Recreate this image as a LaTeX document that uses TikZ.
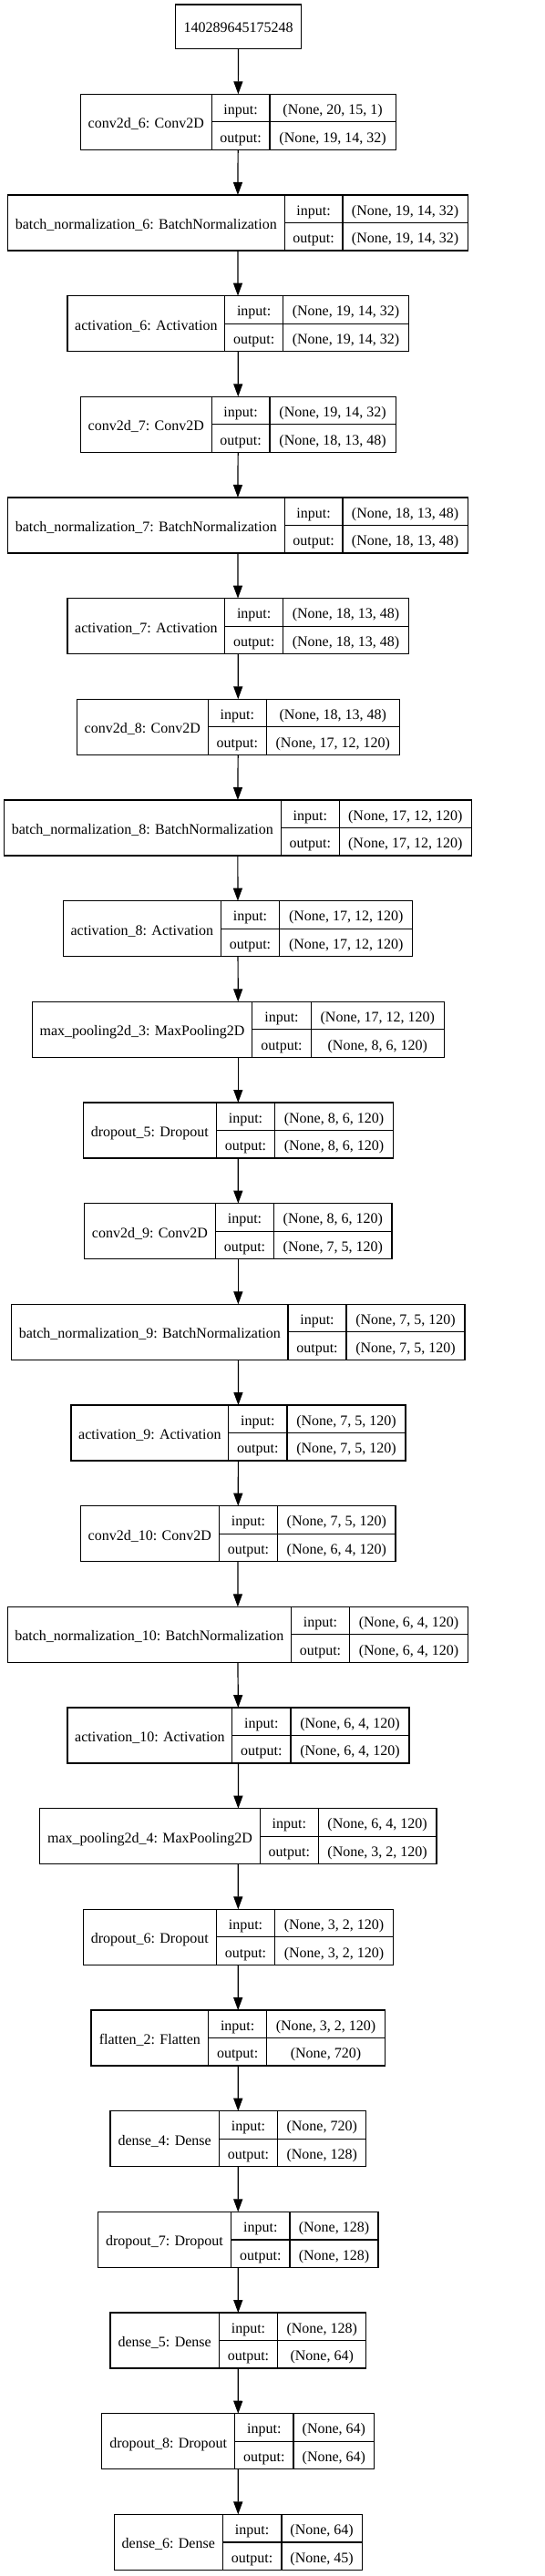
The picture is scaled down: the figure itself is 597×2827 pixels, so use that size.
\documentclass[tikz,border=0pt]{standalone}
\usepackage{fontspec}
\setmainfont{Liberation Serif}
\usetikzlibrary{arrows.meta}

% one layer: name, row, left, split1, split2, right, label, input, output
\newcommand{\layer}[9]{%
  \pgfmathsetmacro{\yc}{133.8+110.67*#2}
  \node[cell, draw=none, minimum width={(#6-#3)*1pt}, minimum height=61pt] (#1) at ({(#3+#6)/2},\yc) {};
  \node[cell, minimum width={(#4-#3)*1pt}, minimum height=61pt] (#1n) at ({(#3+#4)/2},\yc) {#7};
  \node[cell, minimum width={(#5-#4)*1pt}, minimum height=30.5pt] (#1il) at ({(#4+#5)/2},\yc-15.25) {input:};
  \node[cell, minimum width={(#5-#4)*1pt}, minimum height=30.5pt] (#1ol) at ({(#4+#5)/2},\yc+15.25) {output:};
  \node[cell, minimum width={(#6-#5)*1pt}, minimum height=30.5pt] (#1i) at ({(#5+#6)/2},\yc-15.25) {#8};
  \node[cell, minimum width={(#6-#5)*1pt}, minimum height=30.5pt] (#1o) at ({(#5+#6)/2},\yc+15.25) {#9};
}

\begin{document}
\begin{tikzpicture}[x=1pt, y=-1pt, line width=1.2pt,
    cell/.style={draw, inner sep=0pt, outer sep=0pt, text height=16pt, text depth=2pt,
      font=\fontsize{16}{19}\selectfont},
    arr/.style={-{Triangle[length=14pt, width=10pt]}}]
  \useasboundingbox (0,0) rectangle (597,2827);

  \node[cell, minimum width=138.4pt, minimum height=48.3pt, text height=14pt] (top) at (261.5,29.2) {140289645175248};

  \layer{conv6}{0}{88.3}{232.3}{296}{434.3}{conv2d\_6: Conv2D}{(None, 20, 15, 1)}{(None, 19, 14, 32)}
  \layer{bn6}{1}{8.3}{312.3}{376}{513.3}{batch\_normalization\_6: BatchNormalization}{(None, 19, 14, 32)}{(None, 19, 14, 32)}
  \layer{act6}{2}{74}{246.7}{310.7}{448.3}{activation\_6: Activation}{(None, 19, 14, 32)}{(None, 19, 14, 32)}
  \layer{conv7}{3}{88.3}{232.3}{296}{434.3}{conv2d\_7: Conv2D}{(None, 19, 14, 32)}{(None, 18, 13, 48)}
  \layer{bn7}{4}{8.3}{312.3}{376}{513.3}{batch\_normalization\_7: BatchNormalization}{(None, 18, 13, 48)}{(None, 18, 13, 48)}
  \layer{act7}{5}{74}{246.7}{310.7}{448.3}{activation\_7: Activation}{(None, 18, 13, 48)}{(None, 18, 13, 48)}
  \layer{conv8}{6}{84.3}{228.3}{292.3}{438.3}{conv2d\_8: Conv2D}{(None, 18, 13, 48)}{(None, 17, 12, 120)}
  \layer{bn8}{7}{4.3}{308.3}{372.3}{517.3}{batch\_normalization\_8: BatchNormalization}{(None, 17, 12, 120)}{(None, 17, 12, 120)}
  \layer{act8}{8}{69.3}{242.3}{306.7}{452.7}{activation\_8: Activation}{(None, 17, 12, 120)}{(None, 17, 12, 120)}
  \layer{pool3}{9}{35.3}{276.7}{341.3}{487.3}{max\_pooling2d\_3: MaxPooling2D}{(None, 17, 12, 120)}{(None, 8, 6, 120)}
  \layer{drop5}{10}{91.3}{237.3}{301.7}{431.3}{dropout\_5: Dropout}{(None, 8, 6, 120)}{(None, 8, 6, 120)}
  \layer{conv9}{11}{92.7}{236.3}{300.7}{430}{conv2d\_9: Conv2D}{(None, 8, 6, 120)}{(None, 7, 5, 120)}
  \layer{bn9}{12}{12.7}{316}{380}{510}{batch\_normalization\_9: BatchNormalization}{(None, 7, 5, 120)}{(None, 7, 5, 120)}
  \layer{act9}{13}{78}{250.7}{315}{445}{activation\_9: Activation}{(None, 7, 5, 120)}{(None, 7, 5, 120)}
  \layer{conv10}{14}{88.3}{240.3}{304.7}{434}{conv2d\_10: Conv2D}{(None, 7, 5, 120)}{(None, 6, 4, 120)}
  \layer{bn10}{15}{8.3}{319.3}{383.7}{513.3}{batch\_normalization\_10: BatchNormalization}{(None, 6, 4, 120)}{(None, 6, 4, 120)}
  \layer{act10}{16}{74}{254.7}{319}{449}{activation\_10: Activation}{(None, 6, 4, 120)}{(None, 6, 4, 120)}
  \layer{pool4}{17}{43.7}{285.3}{349.3}{479}{max\_pooling2d\_4: MaxPooling2D}{(None, 6, 4, 120)}{(None, 3, 2, 120)}
  \layer{drop6}{18}{91.3}{237.3}{301.7}{431.3}{dropout\_6: Dropout}{(None, 3, 2, 120)}{(None, 3, 2, 120)}
  \layer{flat2}{19}{100}{228.7}{292.7}{422.3}{flatten\_2: Flatten}{(None, 3, 2, 120)}{(None, 720)}
  \layer{dense4}{20}{121}{240.3}{304.7}{401.7}{dense\_4: Dense}{(None, 720)}{(None, 128)}
  \layer{drop7}{21}{107.3}{253.7}{318}{415}{dropout\_7: Dropout}{(None, 128)}{(None, 128)}
  \layer{dense5}{22}{121}{240.3}{304.7}{401.7}{dense\_5: Dense}{(None, 128)}{(None, 64)}
  \layer{drop8}{23}{111.7}{257.7}{322}{410.7}{dropout\_8: Dropout}{(None, 64)}{(None, 64)}
  \layer{dense6}{24}{125.3}{244.3}{309}{397.3}{dense\_6: Dense}{(None, 64)}{(None, 45)}

  \draw[arr] (top) -- (conv6);
  \draw[arr] (conv6) -- (bn6);
  \draw[arr] (bn6) -- (act6);
  \draw[arr] (act6) -- (conv7);
  \draw[arr] (conv7) -- (bn7);
  \draw[arr] (bn7) -- (act7);
  \draw[arr] (act7) -- (conv8);
  \draw[arr] (conv8) -- (bn8);
  \draw[arr] (bn8) -- (act8);
  \draw[arr] (act8) -- (pool3);
  \draw[arr] (pool3) -- (drop5);
  \draw[arr] (drop5) -- (conv9);
  \draw[arr] (conv9) -- (bn9);
  \draw[arr] (bn9) -- (act9);
  \draw[arr] (act9) -- (conv10);
  \draw[arr] (conv10) -- (bn10);
  \draw[arr] (bn10) -- (act10);
  \draw[arr] (act10) -- (pool4);
  \draw[arr] (pool4) -- (drop6);
  \draw[arr] (drop6) -- (flat2);
  \draw[arr] (flat2) -- (dense4);
  \draw[arr] (dense4) -- (drop7);
  \draw[arr] (drop7) -- (dense5);
  \draw[arr] (dense5) -- (drop8);
  \draw[arr] (drop8) -- (dense6);
\end{tikzpicture}
\end{document}
